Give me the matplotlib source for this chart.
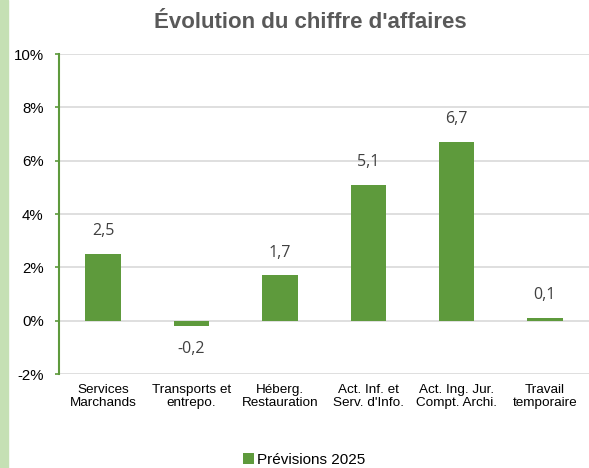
import matplotlib
matplotlib.use("Agg")
import matplotlib.pyplot as plt
from matplotlib.patches import Rectangle
from matplotlib.ticker import FuncFormatter

# data
categories = ["Services\nMarchands", "Transports et\nentrepo.", "Héberg.\nRestauration",
              "Act. Inf. et\nServ. d'Info.", "Act. Ing. Jur.\nCompt. Archi.", "Travail\ntemporaire"]
values = [2.5, -0.2, 1.7, 5.1, 6.7, 0.1]
labels = ["2,5", "-0,2", "1,7", "5,1", "6,7", "0,1"]
series_name = "Prévisions 2025"

bar_color = "#5e9a3c"
grey = "#595959"

fig = plt.figure(figsize=(5.89, 4.68), dpi=100)
fig.patches.append(Rectangle((0, 0), 8 / 589, 1, transform=fig.transFigure,
                             color="#c5e0b4", zorder=0))

ax = fig.add_axes([59 / 589, 1 - 374 / 468, 530 / 589, 320 / 468])
x = range(len(categories))
bars = ax.bar(x, values, width=0.4, color=bar_color, label=series_name, zorder=3)

ax.set_ylim(-2, 10)
ax.set_xlim(-0.5, len(categories) - 0.5)
ax.set_yticks(range(-2, 11, 2))
ax.yaxis.set_major_formatter(FuncFormatter(lambda v, p: f"{int(v)}%"))
ax.yaxis.grid(True, color="#d9d9d9", linewidth=1.2, zorder=0)
ax.set_axisbelow(True)

for s in ["top", "right", "bottom"]:
    ax.spines[s].set_visible(False)
ax.spines["left"].set_color(bar_color)
ax.spines["left"].set_linewidth(1.5)
ax.tick_params(axis="y", colors=bar_color, length=3, width=1.2, labelcolor="black",
               labelsize=10.8, pad=8)
ax.tick_params(axis="x", length=0, pad=7.5)
ax.set_xticks(list(x))
ax.set_xticklabels(categories, fontsize=9.7, family="Liberation Sans", linespacing=1.1)
for t in ax.get_yticklabels():
    t.set_family("Liberation Sans")

for xi, v, lab in zip(x, values, labels):
    if v >= 0:
        ax.text(xi, v + 0.55, lab, ha="center", va="bottom", fontsize=11.5,
                color="#404040", family="Open Sans")
    else:
        ax.text(xi, v - 0.55, lab, ha="center", va="top", fontsize=11.5,
                color="#404040", family="Open Sans")

fig.text(310 / 589, 1 - 23 / 468, "Évolution du chiffre d'affaires", ha="center",
         va="center", fontsize=16, fontweight="bold", color=grey,
         family="Liberation Sans")

leg = fig.legend(handles=[bars], labels=[series_name], loc="center",
                 bbox_to_anchor=(304 / 589, 1 - 460 / 468), frameon=False,
                 handlelength=0.75, handleheight=0.75, handletextpad=0.2,
                 prop={"family": "Liberation Sans", "size": 11})

fig.savefig("out.png", dpi=100)
